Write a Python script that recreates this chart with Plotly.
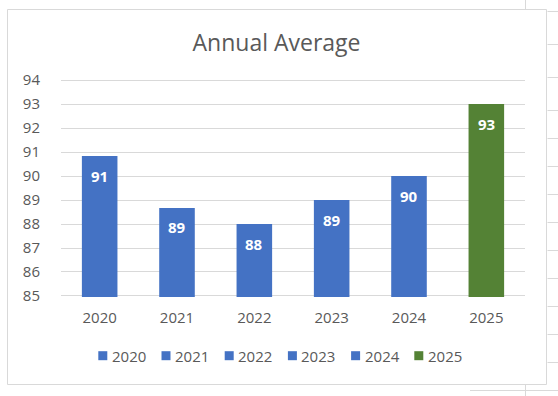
import plotly.graph_objects as go

# ---- data ----
categories = ["2020", "2021", "2022", "2023", "2024", "2025"]
values = [90.83, 88.67, 88.0, 89.0, 90.0, 93.0]
bar_colors = ["#4472C4", "#4472C4", "#4472C4", "#4472C4", "#4472C4", "#548235"]
y_ticks = [85, 86, 87, 88, 89, 90, 91, 92, 93, 94]
title_text = "Annual Average"

# ---- geometry ----
W, H = 558, 396
ML, MR, MT, MB = 61, 33, 79, 99
PW, PH = W - ML - MR, H - MT - MB
TXT = "#595959"
GRID = "#D9D9D9"
FONT = "Open Sans"


def px_x(p):
    return (p - ML) / PW


def px_y(p):
    return (H - MB - p) / PH


fig = go.Figure()
fig.add_trace(go.Bar(
    x=categories, y=values, marker=dict(color=bar_colors, line=dict(width=0)),
    showlegend=False, hoverinfo="x+y",
))

annotations = []
for i, v in enumerate(values):
    annotations.append(dict(
        x=i, y=v, xref="x", yref="y", text=f"<b>{v:.0f}</b>", showarrow=False,
        yanchor="middle", yshift=-19.5,
        font=dict(family=FONT, size=15, color="white"),
    ))

# custom legend (Excel-like compact)
shapes = []
LEG_X0, LEG_STEP, LEG_Y, SQ = 98.3, 63.2, 355.7, 9
for i, (c, col) in enumerate(zip(categories, bar_colors)):
    x0 = LEG_X0 + i * LEG_STEP
    shapes.append(dict(type="rect", xref="paper", yref="paper",
                       x0=px_x(x0), x1=px_x(x0 + SQ),
                       y0=px_y(LEG_Y - SQ / 2), y1=px_y(LEG_Y + SQ / 2),
                       fillcolor=col, line=dict(width=0)))
    annotations.append(dict(
        x=px_x(x0 + 11.5), y=px_y(LEG_Y), xref="paper", yref="paper",
        text=c, showarrow=False, xanchor="left", yanchor="middle",
        font=dict(family=FONT, size=15, color=TXT),
    ))

# chart border
shapes.append(dict(type="rect", xref="paper", yref="paper",
                   x0=px_x(7.5), x1=px_x(546.5), y0=px_y(384.5), y1=px_y(9.5),
                   line=dict(color=GRID, width=1), layer="below"))

# spreadsheet cell lines around the chart
sheet_lines = [
    (525.5, 0, 525.5, 9), (525.5, 385, 525.5, 396), (470, 390.5, 558, 390.5),
]
for yy in [11, 44, 77, 110, 138, 166, 194, 222, 250, 278, 306, 334, 362]:
    sheet_lines.append((547.5, yy + 0.5, 558, yy + 0.5))
for (xa, ya, xb, yb) in sheet_lines:
    shapes.append(dict(type="line", xref="paper", yref="paper",
                       x0=px_x(xa), x1=px_x(xb), y0=px_y(ya), y1=px_y(yb),
                       line=dict(color=GRID, width=1), layer="below"))

fig.update_layout(
    width=W, height=H,
    margin=dict(l=ML, r=MR, t=MT, b=MB, pad=0),
    paper_bgcolor="white", plot_bgcolor="white",
    bargap=0.54,
    title=dict(text=title_text, x=276.5 / W, xanchor="center",
               y=1 - 42.5 / H, yanchor="middle",
               font=dict(family=FONT, size=23, color=TXT)),
    font=dict(family=FONT, size=15, color=TXT),
    xaxis=dict(type="category", range=[-0.5, len(categories) - 0.5],
               showgrid=False, showline=False,
               ticks="", tickfont=dict(family=FONT, size=15, color=TXT),
               ticklabelstandoff=10, fixedrange=True),
    yaxis=dict(range=[84.958, 94.042], tickvals=y_ticks, showgrid=True, gridcolor=GRID,
               gridwidth=1, zeroline=False, showline=False, ticks="",
               tickfont=dict(family=FONT, size=15, color=TXT),
               ticklabelstandoff=20, fixedrange=True),
    showlegend=False,
    annotations=annotations,
    shapes=shapes,
)

fig.write_html("out.html", config={"displayModeBar": False},
               post_script="document.body.style.margin='0';")
